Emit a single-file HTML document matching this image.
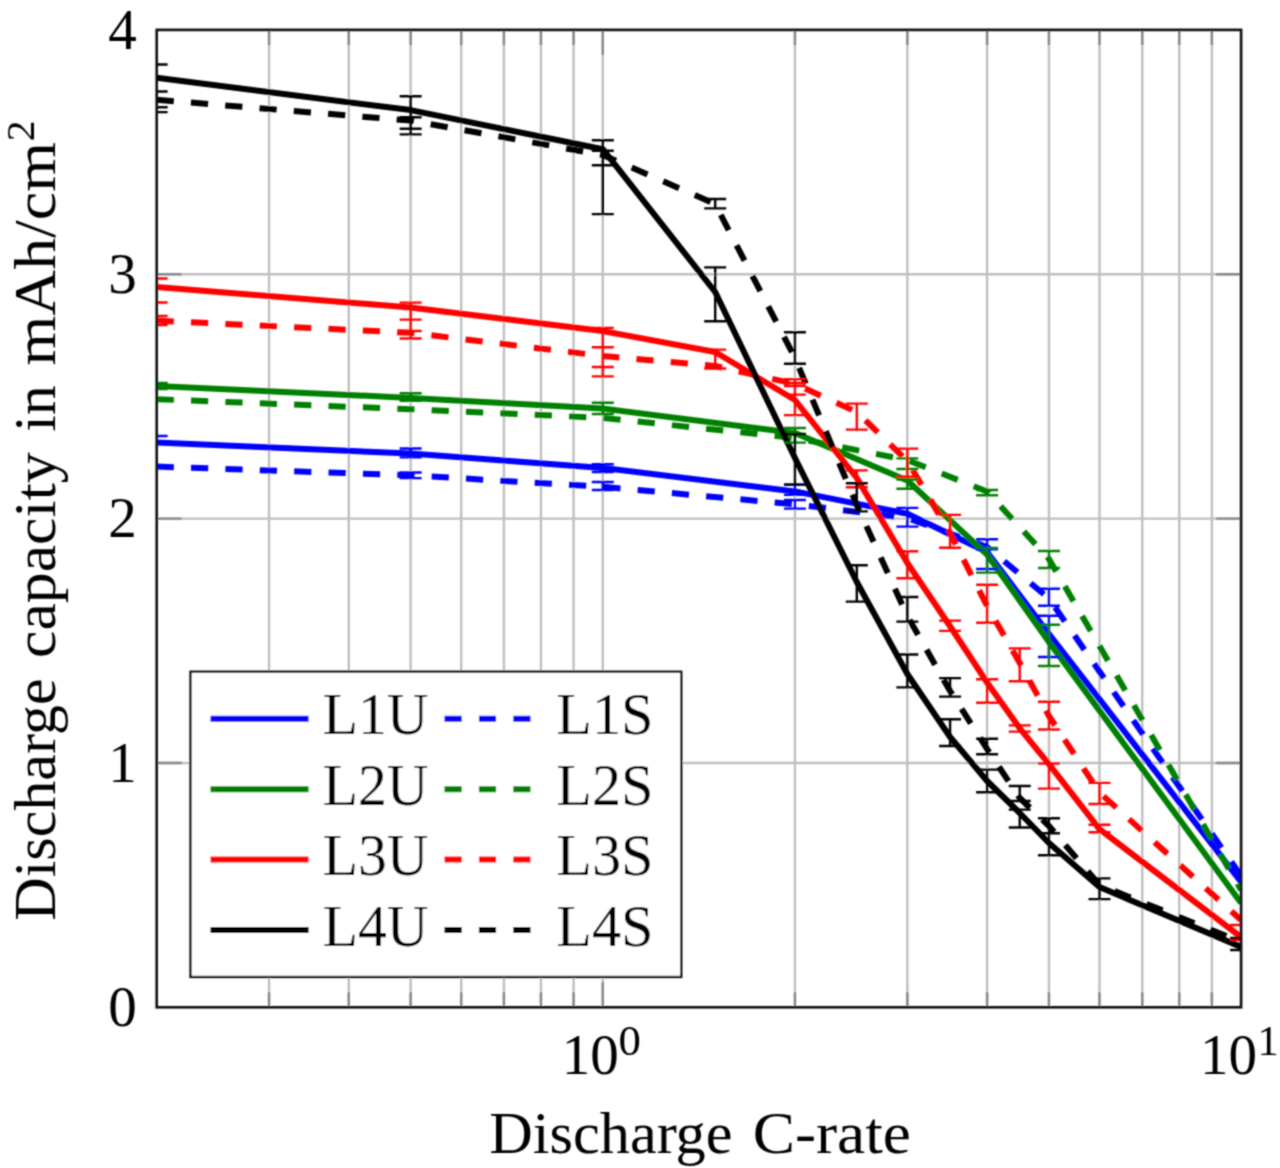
<!DOCTYPE html>
<html><head><meta charset="utf-8"><style>
html,body{margin:0;padding:0;background:#fff;}
svg{display:block;}
text{font-family:"Liberation Serif",serif;fill:#000;}
</style></head><body>
<svg width="1280" height="1168" viewBox="0 0 1280 1168">
<defs><filter id="bl" filterUnits="userSpaceOnUse" x="0" y="0" width="1280" height="1168"><feConvolveMatrix order="3" kernelMatrix="0.0484 0.1232 0.0484 0.1232 0.3136 0.1232 0.0484 0.1232 0.0484" divisor="1" edgeMode="none"/></filter><clipPath id="c"><rect x="156.7" y="29.9" width="1084.4" height="977.4"/></clipPath></defs>
<g filter="url(#bl)">

<path d="M269.05 29.9V1007.3M348.79 29.9V1007.3M410.65 29.9V1007.3M461.19 29.9V1007.3M503.93 29.9V1007.3M540.94 29.9V1007.3M573.59 29.9V1007.3M794.95 29.9V1007.3M907.35 29.9V1007.3M987.09 29.9V1007.3M1048.95 29.9V1007.3M1099.49 29.9V1007.3M1142.23 29.9V1007.3M1179.24 29.9V1007.3M1211.89 29.9V1007.3M602.8 29.9V1007.3M156.7 762.95H1241.1M156.7 518.6H1241.1M156.7 274.25H1241.1" stroke="#bfbfbf" stroke-width="2.4" fill="none"/>
<g clip-path="url(#c)">
<path d="M156.65 442.6 L410.65 453.6 L602.8 467.9 L794.95 491.4 L907.35 513.7 L987.09 552 L1048.95 634 L1241.1 882" stroke="#0000ff" stroke-width="6.0" fill="none" stroke-linejoin="round"/>
<path d="M156.65 466.6 L410.65 475.3 L602.8 486.8 L794.95 504.3 L907.35 518 L987.09 547 L1048.95 598.5 L1241.1 876" stroke="#0000ff" stroke-width="6.0" fill="none" stroke-linejoin="round" stroke-dasharray="17.2 17.2"/>
<path d="M156.65 386 L410.65 397.9 L602.8 408.5 L794.95 433 L907.35 480.5 L987.09 554.6 L1048.95 642 L1241.1 903" stroke="#008000" stroke-width="6.0" fill="none" stroke-linejoin="round"/>
<path d="M156.65 399.2 L410.65 409.2 L602.8 417.9 L794.95 438 L907.35 460 L987.09 491.5 L1048.95 559 L1241.1 890" stroke="#008000" stroke-width="6.0" fill="none" stroke-linejoin="round" stroke-dasharray="17.2 17.2"/>
<path d="M156.65 287 L410.65 307.4 L602.8 331.1 L715.2 352 L794.95 400 L856.81 478 L907.35 563 L950.08 626.3 L987.09 682.5 L1019.75 728.3 L1048.95 764.1 L1099.49 829.2 L1241.1 937" stroke="#ff0000" stroke-width="6.0" fill="none" stroke-linejoin="round"/>
<path d="M156.65 320.6 L410.65 332.8 L602.8 356 L715.2 366 L794.95 384 L856.81 412 L907.35 461 L950.08 533 L987.09 606 L1019.75 663 L1048.95 716 L1099.49 792.5 L1241.1 920" stroke="#ff0000" stroke-width="6.0" fill="none" stroke-linejoin="round" stroke-dasharray="17.2 17.2"/>
<path d="M156.65 77.8 L410.65 110.1 L602.8 149.2 L715.2 292 L794.95 458 L856.81 582 L907.35 674 L950.08 737 L987.09 781 L1019.75 813 L1048.95 843 L1099.49 887 L1241.1 947" stroke="#000000" stroke-width="6.0" fill="none" stroke-linejoin="round"/>
<path d="M156.65 99.8 L410.65 120.6 L602.8 155 L715.2 204 L794.95 358 L856.81 505 L907.35 616 L950.08 691 L987.09 749 L1019.75 798 L1048.95 826 L1099.49 885 L1241.1 942" stroke="#000000" stroke-width="6.0" fill="none" stroke-linejoin="round" stroke-dasharray="17.2 17.2"/>
<path d="M156.65 436V442.6M145.65 436H167.65M145.65 442.6H167.65M410.65 448.5V457.4M399.65 448.5H421.65M399.65 457.4H421.65M410.65 472.5V478.1M399.65 472.5H421.65M399.65 478.1H421.65M602.8 464.2V472M591.8 464.2H613.8M591.8 472H613.8M602.8 482V490M591.8 482H613.8M591.8 490H613.8M794.95 484.6V494.9M783.95 484.6H805.95M783.95 494.9H805.95M794.95 500V508.6M783.95 500H805.95M783.95 508.6H805.95M907.35 507.9V526.6M896.35 507.9H918.35M896.35 526.6H918.35M987.09 539.3V569M976.09 539.3H998.09M976.09 549.2H998.09M976.09 569H998.09M1048.95 588.7V605.8M1037.95 588.7H1059.95M1037.95 605.8H1059.95M1048.95 615.7V657M1037.95 615.7H1059.95M1037.95 657H1059.95" stroke="#0000ff" stroke-width="2.4" fill="none"/>
<path d="M156.65 383V389M145.65 383H167.65M145.65 389H167.65M410.65 393.2V400.8M399.65 393.2H421.65M399.65 400.8H421.65M602.8 402.8V414M591.8 402.8H613.8M591.8 414H613.8M794.95 428V442.6M783.95 428H805.95M783.95 442.6H805.95M907.35 458.4V469M896.35 458.4H918.35M896.35 469H918.35M907.35 479.5V488.7M896.35 479.5H918.35M896.35 488.7H918.35M987.09 490V495.2M976.09 490H998.09M976.09 495.2H998.09M987.09 548V572.6M976.09 548H998.09M976.09 572.6H998.09M1048.95 551V568M1037.95 551H1059.95M1037.95 568H1059.95M1048.95 624.7V666M1037.95 624.7H1059.95M1037.95 666H1059.95" stroke="#008000" stroke-width="2.4" fill="none"/>
<path d="M156.65 278.5V302.5M145.65 278.5H167.65M145.65 302.5H167.65M156.65 316V325M145.65 316H167.65M145.65 325H167.65M410.65 302.6V338.5M399.65 302.6H421.65M399.65 319.6H421.65M399.65 331H421.65M399.65 338.5H421.65M602.8 327.9V376.4M591.8 327.9H613.8M591.8 347.2H613.8M591.8 367H613.8M591.8 376.4H613.8M715.2 349.6V368.5M704.2 349.6H726.2M704.2 368.5H726.2M794.95 379.1V394.6M783.95 379.1H805.95M783.95 383H805.95M783.95 386H805.95M783.95 394.6H805.95M794.95 394.6V415.1M783.95 394.6H805.95M783.95 415.1H805.95M856.81 403.6V429.6M845.81 403.6H867.81M845.81 429.6H867.81M856.81 470.4V487.3M845.81 470.4H867.81M845.81 487.3H867.81M907.35 448.6V476.7M896.35 448.6H918.35M896.35 476.7H918.35M907.35 551.2V578.2M896.35 551.2H918.35M896.35 578.2H918.35M950.08 514.9V547.7M939.08 514.9H961.08M939.08 547.7H961.08M950.08 620.6V630.9M939.08 620.6H961.08M939.08 630.9H961.08M987.09 584.7V622.7M976.09 584.7H998.09M976.09 622.7H998.09M987.09 679.2V702.8M976.09 679.2H998.09M976.09 702.8H998.09M1019.75 648.4V681.2M1008.75 648.4H1030.75M1008.75 681.2H1030.75M1019.75 725.4V731.6M1008.75 725.4H1030.75M1008.75 731.6H1030.75M1048.95 701.8V729.5M1037.95 701.8H1059.95M1037.95 729.5H1059.95M1048.95 763.5V788.6M1037.95 763.5H1059.95M1037.95 788.6H1059.95M1099.49 782.9V804M1088.49 782.9H1110.49M1088.49 804H1110.49M1099.49 824.7V832.3M1088.49 824.7H1110.49M1088.49 832.3H1110.49M1241.1 925V940M1230.1 925H1252.1M1230.1 940H1252.1" stroke="#ff0000" stroke-width="2.4" fill="none"/>
<path d="M156.65 64.5V91.5M145.65 64.5H167.65M145.65 91.5H167.65M156.65 107.3V112.1M145.65 107.3H167.65M145.65 112.1H167.65M410.65 96.3V134.4M399.65 96.3H421.65M399.65 117.2H421.65M399.65 128.75H421.65M399.65 134.4H421.65M602.8 140.3V214.1M591.8 140.3H613.8M591.8 150.7H613.8M591.8 165.3H613.8M591.8 214.1H613.8M715.2 199V208.4M704.2 199H726.2M704.2 208.4H726.2M715.2 267.4V321.3M704.2 267.4H726.2M704.2 321.3H726.2M794.95 332.3V363.7M783.95 332.3H805.95M783.95 363.7H805.95M794.95 434V484.6M783.95 434H805.95M783.95 484.6H805.95M856.81 483.3V511.4M845.81 483.3H867.81M845.81 511.4H867.81M856.81 565.3V601.6M845.81 565.3H867.81M845.81 601.6H867.81M907.35 597V621.6M896.35 597H918.35M896.35 621.6H918.35M907.35 654.5V687.4M896.35 654.5H918.35M896.35 687.4H918.35M950.08 678.1V696.6M939.08 678.1H961.08M939.08 696.6H961.08M950.08 719.2V746M939.08 719.2H961.08M939.08 746H961.08M987.09 738.8V754.2M976.09 738.8H998.09M976.09 754.2H998.09M987.09 769.6V792.2M976.09 769.6H998.09M976.09 792.2H998.09M1019.75 786V801M1008.75 786H1030.75M1008.75 801H1030.75M1019.75 809.6V827.5M1008.75 809.6H1030.75M1008.75 827.5H1030.75M1048.95 818.2V833.2M1037.95 818.2H1059.95M1037.95 833.2H1059.95M1048.95 833.2V855.3M1037.95 833.2H1059.95M1037.95 855.3H1059.95M1099.49 878.4V899.1M1088.49 878.4H1110.49M1088.49 899.1H1110.49M1241.1 938V950M1230.1 938H1252.1M1230.1 950H1252.1" stroke="#000000" stroke-width="2.4" fill="none"/>
</g>
<path d="M269.05 1007.3V992.3M269.05 29.9V44.9M348.79 1007.3V992.3M348.79 29.9V44.9M410.65 1007.3V992.3M410.65 29.9V44.9M461.19 1007.3V992.3M461.19 29.9V44.9M503.93 1007.3V992.3M503.93 29.9V44.9M540.94 1007.3V992.3M540.94 29.9V44.9M573.59 1007.3V992.3M573.59 29.9V44.9M794.95 1007.3V992.3M794.95 29.9V44.9M907.35 1007.3V992.3M907.35 29.9V44.9M987.09 1007.3V992.3M987.09 29.9V44.9M1048.95 1007.3V992.3M1048.95 29.9V44.9M1099.49 1007.3V992.3M1099.49 29.9V44.9M1142.23 1007.3V992.3M1142.23 29.9V44.9M1179.24 1007.3V992.3M1179.24 29.9V44.9M1211.89 1007.3V992.3M1211.89 29.9V44.9M602.8 1007.3V982.3M602.8 29.9V54.9M156.7 762.95H181.7M1241.1 762.95H1216.1M156.7 518.6H181.7M1241.1 518.6H1216.1M156.7 274.25H181.7M1241.1 274.25H1216.1" stroke="#888" stroke-width="2.4" fill="none"/>
<rect x="156.7" y="29.9" width="1084.4" height="977.4" fill="none" stroke="#111" stroke-width="2.6"/>
<rect x="190.5" y="671.7" width="490.75" height="305.25" fill="#fff" stroke="#111" stroke-width="2.3"/>
<path d="M210.5 718.7H308.6" stroke="#0000ff" stroke-width="6.0"/>
<path d="M444.5 718.7H530.5" stroke="#0000ff" stroke-width="6.0" stroke-dasharray="17.2 17.2"/>
<text x="322.75" y="734.2" font-size="59" textLength="105.7" lengthAdjust="spacingAndGlyphs">L1U</text>
<text x="556.3" y="734.2" font-size="59" textLength="97.2" lengthAdjust="spacingAndGlyphs">L1S</text>
<path d="M210.5 789.2H308.6" stroke="#008000" stroke-width="6.0"/>
<path d="M444.5 789.2H530.5" stroke="#008000" stroke-width="6.0" stroke-dasharray="17.2 17.2"/>
<text x="322.75" y="804.7" font-size="59" textLength="105.7" lengthAdjust="spacingAndGlyphs">L2U</text>
<text x="556.3" y="804.7" font-size="59" textLength="97.2" lengthAdjust="spacingAndGlyphs">L2S</text>
<path d="M210.5 859.6H308.6" stroke="#ff0000" stroke-width="6.0"/>
<path d="M444.5 859.6H530.5" stroke="#ff0000" stroke-width="6.0" stroke-dasharray="17.2 17.2"/>
<text x="322.75" y="875.1" font-size="59" textLength="105.7" lengthAdjust="spacingAndGlyphs">L3U</text>
<text x="556.3" y="875.1" font-size="59" textLength="97.2" lengthAdjust="spacingAndGlyphs">L3S</text>
<path d="M210.5 930.1H308.6" stroke="#000000" stroke-width="6.0"/>
<path d="M444.5 930.1H530.5" stroke="#000000" stroke-width="6.0" stroke-dasharray="17.2 17.2"/>
<text x="322.75" y="945.6" font-size="59" textLength="105.7" lengthAdjust="spacingAndGlyphs">L4U</text>
<text x="556.3" y="945.6" font-size="59" textLength="97.2" lengthAdjust="spacingAndGlyphs">L4S</text>
<text x="122.4" y="1026.1" font-size="57" text-anchor="middle">0</text>
<text x="122.4" y="781.75" font-size="57" text-anchor="middle">1</text>
<text x="122.4" y="537.4" font-size="57" text-anchor="middle">2</text>
<text x="122.4" y="293.05" font-size="57" text-anchor="middle">3</text>
<text x="122.4" y="48.7" font-size="57" text-anchor="middle">4</text>
<text x="561.8" y="1074.2" font-size="57">10</text>
<text x="618.5" y="1055" font-size="42.5" textLength="22.4" lengthAdjust="spacingAndGlyphs">0</text>
<text x="1200.1" y="1074.2" font-size="57">10</text>
<text x="1257.6" y="1055" font-size="42.5">1</text>
<text x="489.3" y="1153" font-size="58.5" textLength="243.2" lengthAdjust="spacingAndGlyphs">Discharge</text>
<text x="752.7" y="1153" font-size="58.5" textLength="158.2" lengthAdjust="spacingAndGlyphs">C-rate</text>
<text transform="translate(54.5 920.7) rotate(-90)" font-size="59" textLength="242.3" lengthAdjust="spacingAndGlyphs">Discharge</text>
<text transform="translate(54.5 658.0) rotate(-90)" font-size="59" textLength="205.7" lengthAdjust="spacingAndGlyphs">capacity</text>
<text transform="translate(54.5 431.8) rotate(-90)" font-size="59" textLength="46.64" lengthAdjust="spacingAndGlyphs">in</text>
<text transform="translate(54.5 365.6) rotate(-90)" font-size="59" textLength="223.5" lengthAdjust="spacingAndGlyphs">mAh/cm</text>
<text transform="translate(54.5 920.8) rotate(-90)" x="779.5" y="-20.7" font-size="40" textLength="20.9" lengthAdjust="spacingAndGlyphs">2</text>
</g></svg></body></html>
